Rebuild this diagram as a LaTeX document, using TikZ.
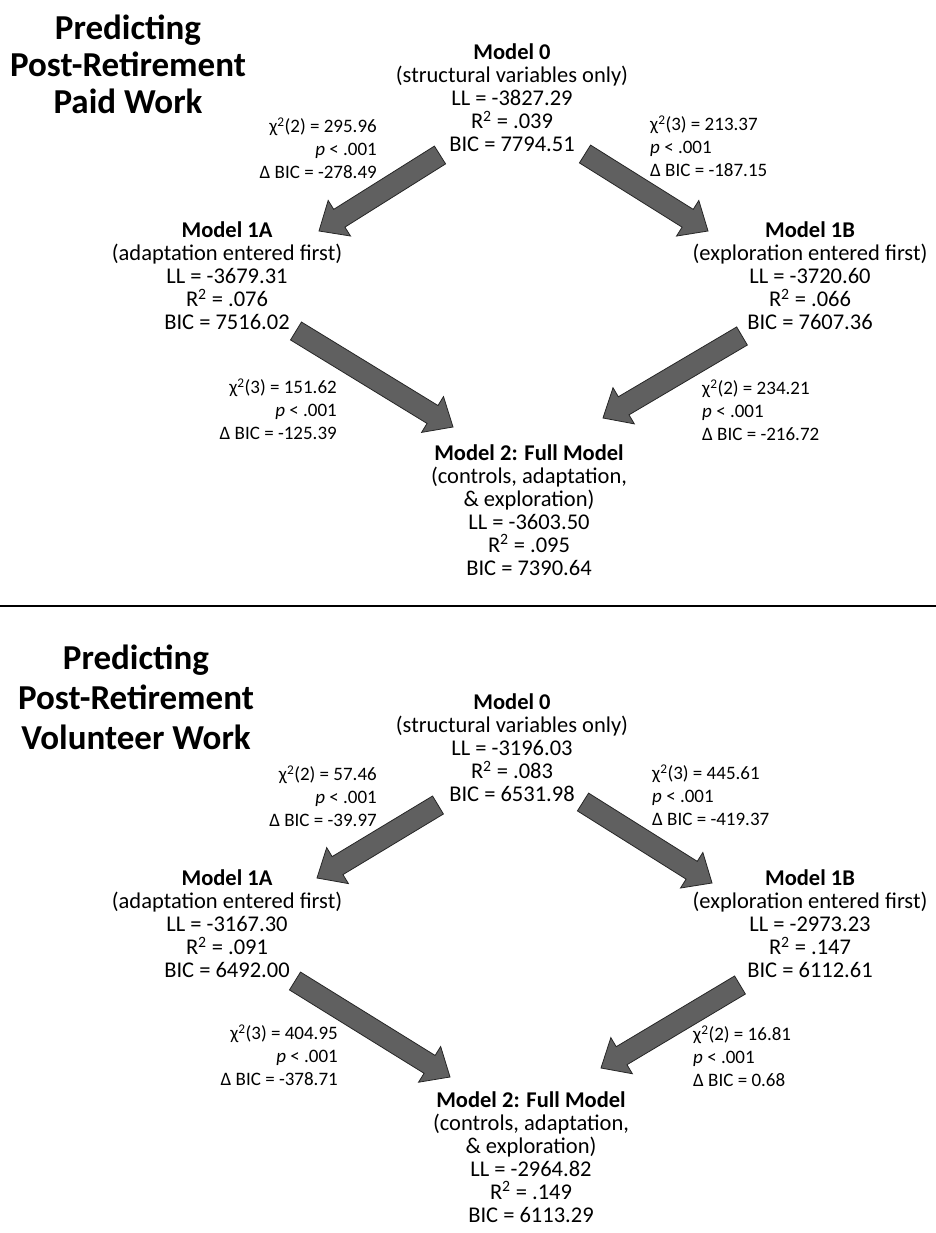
\documentclass[tikz,border=0pt]{standalone}
\usepackage{fontspec}
\setmainfont{Carlito}
\usetikzlibrary{calc}
\definecolor{arrowgray}{HTML}{606060}
\tikzset{
  model/.style={align=center, inner sep=0pt, font=\fontsize{22.5}{23}\selectfont},
  stat/.style={inner sep=0pt, font=\fontsize{19}{23}\selectfont},
  statL/.style={stat, align=right, anchor=east},
  statR/.style={stat, align=left, anchor=west},
  ptitle/.style={align=center, inner sep=0pt, font=\fontsize{35}{37}\selectfont\bfseries},
  blockarr/.style={fill=arrowgray, draw=black!85, line width=0.8pt, line join=miter},
  sepline/.style={line width=1.3pt, black},
}
\newcommand\blockarrow[2]{%
  \path ($(#2)!24pt!(#1)$) coordinate (#2-h);
  \draw[blockarr] ($(#1)!10.5pt!90:(#2)$) -- ($(#2-h)!10.5pt!90:(#2)$) -- ($(#2-h)!21pt!90:(#2)$) -- (#2) -- ($(#2-h)!21pt!-90:(#2)$) -- ($(#2-h)!10.5pt!-90:(#2)$) -- ($(#1)!10.5pt!-90:(#2)$) -- cycle;
}
\newcommand\chisq[2]{χ\textsuperscript{2}(#1) = #2}
\newcommand\rsq{R\textsuperscript{2}}
\begin{document}
\begin{tikzpicture}[x=1pt,y=-1pt]
\useasboundingbox[fill=white] (0,0) rectangle (936,1233);

% ---------------- top panel ----------------
\node[ptitle] (t1) at (128,64) {Predicting\\Post-Retirement\\Paid Work};

\node[model] (m0a) at (512,98) {\textbf{Model 0}\\(structural variables only)\\LL = -3827.29\\\rsq{} = .039\\BIC = 7794.51};
\node[model] (m1aa) at (227,276) {\textbf{Model 1A}\\(adaptation entered first)\\LL = -3679.31\\\rsq{} = .076\\BIC = 7516.02};
\node[model] (m1ba) at (810,276) {\textbf{Model 1B}\\(exploration entered first)\\LL = -3720.60\\\rsq{} = .066\\BIC = 7607.36};
\node[model] (m2a) at (529,510) {\textbf{Model 2: Full Model}\\(controls, adaptation,\\\& exploration)\\LL = -3603.50\\\rsq{} = .095\\BIC = 7390.64};

\coordinate (a1s) at (440,155); \coordinate (a1e) at (319,231);
\coordinate (a2s) at (585,154); \coordinate (a2e) at (708,231);
\coordinate (a3s) at (296,331); \coordinate (a3e) at (453,427);
\coordinate (a4s) at (742,336); \coordinate (a4e) at (603,418);
\blockarrow{a1s}{a1e}
\blockarrow{a2s}{a2e}
\blockarrow{a3s}{a3e}
\blockarrow{a4s}{a4e}

\node[statL] (s1a) at (377,148) {\chisq{2}{295.96}\\\textit{p} < .001\\Δ BIC = -278.49};
\node[statR] (s2a) at (650,146) {\chisq{3}{213.37}\\\textit{p} < .001\\Δ BIC = -187.15};
\node[statL] (s3a) at (337,409) {\chisq{3}{151.62}\\\textit{p} < .001\\Δ BIC = -125.39};
\node[statR] (s4a) at (702,410) {\chisq{2}{234.21}\\\textit{p} < .001\\Δ BIC = -216.72};

% separator
\coordinate (sepL) at (0,606); \coordinate (sepR) at (936,606);
\draw[sepline] (sepL) -- (sepR);

% ---------------- bottom panel ----------------
\node[ptitle, font=\fontsize{35}{40}\selectfont\bfseries] (t2) at (136,697) {Predicting\\Post-Retirement\\Volunteer Work};

\node[model] (m0b) at (512,748) {\textbf{Model 0}\\(structural variables only)\\LL = -3196.03\\\rsq{} = .083\\BIC = 6531.98};
\node[model] (m1ab) at (227,924) {\textbf{Model 1A}\\(adaptation entered first)\\LL = -3167.30\\\rsq{} = .091\\BIC = 6492.00};
\node[model] (m1bb) at (810,924) {\textbf{Model 1B}\\(exploration entered first)\\LL = -2973.23\\\rsq{} = .147\\BIC = 6112.61};
\node[model] (m2b) at (531,1157) {\textbf{Model 2: Full Model}\\(controls, adaptation,\\\& exploration)\\LL = -2964.82\\\rsq{} = .149\\BIC = 6113.29};

\coordinate (b1s) at (438,805); \coordinate (b1e) at (317,878);
\coordinate (b2s) at (583,802); \coordinate (b2e) at (712,883);
\coordinate (b3s) at (295,981); \coordinate (b3e) at (450,1077);
\coordinate (b4s) at (740,985); \coordinate (b4e) at (601,1068);
\blockarrow{b1s}{b1e}
\blockarrow{b2s}{b2e}
\blockarrow{b3s}{b3e}
\blockarrow{b4s}{b4e}

\node[statL] (s1b) at (377,796) {\chisq{2}{57.46}\\\textit{p} < .001\\Δ BIC = -39.97};
\node[statR] (s2b) at (652,795) {\chisq{3}{445.61}\\\textit{p} < .001\\Δ BIC = -419.37};
\node[statL] (s3b) at (338,1055) {\chisq{3}{404.95}\\\textit{p} < .001\\Δ BIC = -378.71};
\node[statR] (s4b) at (693,1056) {\chisq{2}{16.81}\\\textit{p} < .001\\Δ BIC = 0.68};
\end{tikzpicture}
\end{document}
